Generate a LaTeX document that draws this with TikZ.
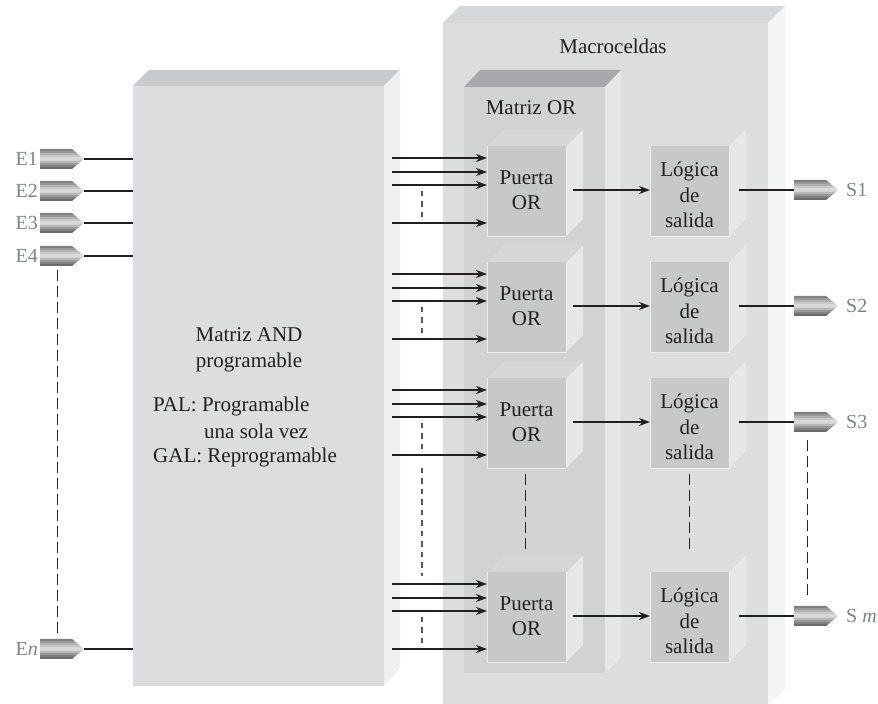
\documentclass[tikz,border=0pt]{standalone}
\usepackage{fontspec}
\setmainfont{Liberation Serif}
\usetikzlibrary{arrows.meta}
\definecolor{ink}{HTML}{231F20}
\definecolor{lab}{HTML}{808285}
\definecolor{mfront}{HTML}{DCDDDE}
\definecolor{mtop}{HTML}{D6D7D9}
\definecolor{mside}{HTML}{F3F4F4}
\definecolor{afront}{HTML}{DCDDDE}
\definecolor{atop}{HTML}{C9CACC}
\definecolor{aside}{HTML}{EEEFF0}
\definecolor{ofront}{HTML}{D1D2D4}
\definecolor{otop}{HTML}{A7A9AC}
\definecolor{oside}{HTML}{E6E7E8}
\definecolor{bfront}{HTML}{C7C8CA}
\definecolor{bside}{HTML}{E6E7E8}
\definecolor{dotgrey}{HTML}{58595B}
\pgfdeclareverticalshading{pinband}{100bp}{
 rgb(0bp)=(0.42,0.42,0.42);rgb(31bp)=(0.42,0.42,0.42);
 rgb(31bp)=(0.50,0.50,0.50);rgb(37bp)=(0.50,0.50,0.50);
 rgb(37bp)=(0.60,0.60,0.60);rgb(42bp)=(0.60,0.60,0.60);
 rgb(42bp)=(0.72,0.72,0.72);rgb(47bp)=(0.72,0.72,0.72);
 rgb(47bp)=(0.85,0.85,0.85);rgb(56bp)=(0.85,0.85,0.85);
 rgb(56bp)=(0.78,0.78,0.78);rgb(61bp)=(0.78,0.78,0.78);
 rgb(61bp)=(0.70,0.70,0.70);rgb(66bp)=(0.70,0.70,0.70);
 rgb(66bp)=(0.60,0.60,0.60);rgb(71bp)=(0.60,0.60,0.60);
 rgb(71bp)=(0.50,0.50,0.50);rgb(100bp)=(0.50,0.50,0.50)}
\newcommand{\pinat}[3]{%
  \node[inner sep=0pt,outer sep=0pt,minimum width=44pt,minimum height=20pt,anchor=west] (#1) at (#2,#3) {};
  \shade[shading=pinband] (#1.north west) -- ([xshift=32pt]#1.north west) -- (#1.east) -- ([xshift=32pt]#1.south west) -- (#1.south west) -- cycle;
}
\tikzset{
 x=1pt,y=1pt,
 face/.style={inner sep=0pt,outer sep=0pt,anchor=north west},
 gatebox/.style={face,fill=bfront,minimum width=79pt,minimum height=90pt},
 rim/.style={draw=bfront!35!white,line width=0.9pt},
 sig/.style={draw=ink,line width=2.2pt},
 sigarrow/.style={sig,-{Stealth[length=11pt,width=8pt]}},
 vdash/.style={draw=ink,line width=0.9pt,dash pattern=on 11pt off 5pt},
 fdash/.style={draw=dotgrey,line width=1.4pt,dash pattern=on 5.5pt off 5pt},
 txt/.style={text=ink,font=\fontsize{21}{25.5}\selectfont,inner sep=0pt,align=center},
 pinlab/.style={text=lab,font=\fontsize{20}{24}\selectfont,inner sep=0pt}
}
\begin{document}
\begin{tikzpicture}
\useasboundingbox (0,0) rectangle (878,704);
% Macroceldas block
\node[face,fill=mfront,minimum width=325pt,minimum height=681pt] (macro) at (443,681) {};
\fill[mtop] (macro.north west) -- ++(17,17) -- ++(325,0) -- (macro.north east) -- cycle;
\fill[mside] (macro.north east) -- ++(17,17) -- (785,14) -- (macro.south east) -- cycle;
% Matriz AND block
\node[face,fill=afront,minimum width=251pt,minimum height=600pt] (andm) at (133,618) {};
\fill[atop] (andm.north west) -- ++(16,16) -- ++(251,0) -- (andm.north east) -- cycle;
\fill[aside] (andm.north east) -- ++(16,16) -- (400,36) -- (andm.south east) -- cycle;
% Matriz OR block
\node[face,fill=ofront,minimum width=141pt,minimum height=586pt] (orm) at (464,617) {};
\fill[otop] (orm.north west) -- ++(16,17) -- ++(141,0) -- (orm.north east) -- cycle;
\fill[oside] (orm.north east) -- ++(16,17) -- (621,47) -- (orm.south east) -- cycle;
% Text
\node[txt] (tmac) at (613,658) {Macroceldas};
\node[txt] (tor) at (531,596) {Matriz OR};
\node[txt] (tand) at (249,354) {Matriz AND\\programable};
\node[txt,anchor=west] (tpal) at (153,298) {PAL: Programable};
\node[txt,anchor=west] (tuna) at (204,273) {una sola vez};
\node[txt,anchor=west] (tgal) at (153,247) {GAL: Reprogramable};
% Gate rows: id / box top (image px)
\foreach \r/\t in {1/146,2/262,3/378,4/572}{
  \pgfmathsetmacro{\ny}{704-\t}
  \node[gatebox] (p\r) at (487,\ny) {};
  \node[gatebox] (l\r) at (650,\ny) {};
  \node[txt] (tp\r) at ([yshift=1pt]p\r.center) {Puerta\\OR};
  \node[txt] (tl\r) at ([yshift=-4pt]l\r.center) {Lógica\\de\\salida};
  \fill[bside] (p\r.north east) -- ++(17,17) -- ++(0,-90) -- (p\r.south east) -- cycle;
  \fill[bfront!10!ofront!90!white] (p\r.north west) -- ++(17,17) -- ++(79,0) -- (p\r.north east) -- cycle;
  \fill[bside] (l\r.north east) -- ++(17,17) -- ++(0,-90) -- (l\r.south east) -- cycle;
  \draw[rim] (p\r.north west) -- (p\r.south west) -- (p\r.south east) -- (p\r.north east);
  \draw[rim] (l\r.north west) -- (l\r.south west) -- (l\r.south east) -- (l\r.north east);
  % inputs
  \foreach \k/\d in {a/12,b/26,c/39,d/77}{
    \pgfmathsetmacro{\ay}{\ny-\d}
    \coordinate (\k\r) at (392,\ay);
    \draw[sigarrow] (\k\r) -- (\k\r -| p\r.west);
  }
  % dashes between inputs
  \coordinate (ds\r) at (422,\ny-45);
  \coordinate (de\r) at (422,\ny-72);
  \draw[fdash] (ds\r) -- (de\r);
  % OR to logic
  \pgfmathsetmacro{\my}{\ny-44}
  \coordinate (o\r) at (573,\my);
  \draw[sigarrow] (o\r) -- (o\r -| l\r.west);
  % output pin
  \pinat{s\r}{794}{\my}
  \coordinate (q\r) at (739,\my);
  \draw[sig] (q\r) -- (s\r.west);
}
% Output labels
\node[pinlab,anchor=west] (ls1) at (846,514) {S1};
\node[pinlab,anchor=west] (ls2) at (846,398) {S2};
\node[pinlab,anchor=west] (ls3) at (846,282) {S3};
\node[pinlab,anchor=west] (ls4) at (846,88) {S \textit{m}};
% Input pins
\foreach \n/\y/\l in {e1/545/E1,e2/513/E2,e3/481/E3,e4/448/E4,en/55/{E\textit{n}}}{
  \pinat{\n}{40}{\y}
  \coordinate (t\n) at (andm.west |- \n);
  \draw[sig] (\n.east) -- (t\n);
  \node[pinlab,anchor=east] (lb\n) at (38,\y) {\l};
}
% Long dashed lines
\coordinate (ld1) at (57,434);
\coordinate (ld2) at (57,67);
\draw[vdash] (ld1) -- (ld2);
\coordinate (rd1) at (807,264);
\coordinate (rd2) at (807,106);
\draw[vdash] (rd1) -- (rd2);
\coordinate (pd1) at (525,230);
\coordinate (pd2) at (525,155);
\draw[vdash] (pd1) -- (pd2);
\coordinate (ld3) at (689,230);
\coordinate (ld4) at (689,155);
\draw[vdash] (ld3) -- (ld4);
\coordinate (md1) at (422,236);
\coordinate (md2) at (422,128);
\draw[fdash] (md1) -- (md2);
\end{tikzpicture}
\end{document}
